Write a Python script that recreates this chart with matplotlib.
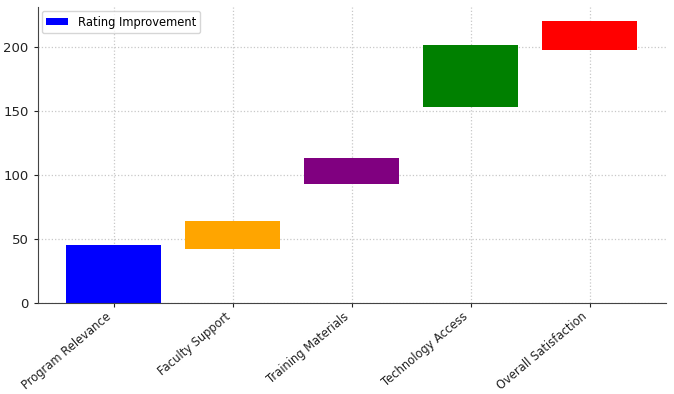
import matplotlib
matplotlib.use("Agg")
import matplotlib.pyplot as plt

categories = ["Program Relevance", "Faculty Support", "Training Materials",
              "Technology Access", "Overall Satisfaction"]
bottoms = [0, 42, 93, 153, 197.5]
heights = [45, 22, 20.5, 48.5, 22.5]
colors = ["blue", "orange", "purple", "green", "red"]

fig = plt.figure(figsize=(6.74, 3.94), dpi=100)
ax = fig.add_axes([0.056, 0.231, 0.932, 0.751])
ax.bar(categories, heights, bottom=bottoms, color=colors, width=0.8,
       label="Rating Improvement", zorder=2)
ax.grid(True, linestyle=":", color="#c8c8c8", linewidth=0.9, zorder=0)
ax.set_axisbelow(True)
ax.spines["top"].set_visible(False)
ax.spines["right"].set_visible(False)
ax.spines["left"].set_color("#444444")
ax.spines["bottom"].set_color("#444444")
ax.tick_params(axis="y", labelsize=9.5, colors="#222222", length=3)
ax.tick_params(axis="x", labelsize=8.3, colors="#222222", length=3, pad=2)
plt.setp(ax.get_xticklabels(), rotation=40, ha="right", rotation_mode="default")
ax.set_yticks([0, 50, 100, 150, 200])
ax.legend(loc="upper left", fontsize=8.3, frameon=True, handlelength=1.9,
          handleheight=0.5, borderaxespad=0.35)
fig.savefig("out.png", dpi=100)
